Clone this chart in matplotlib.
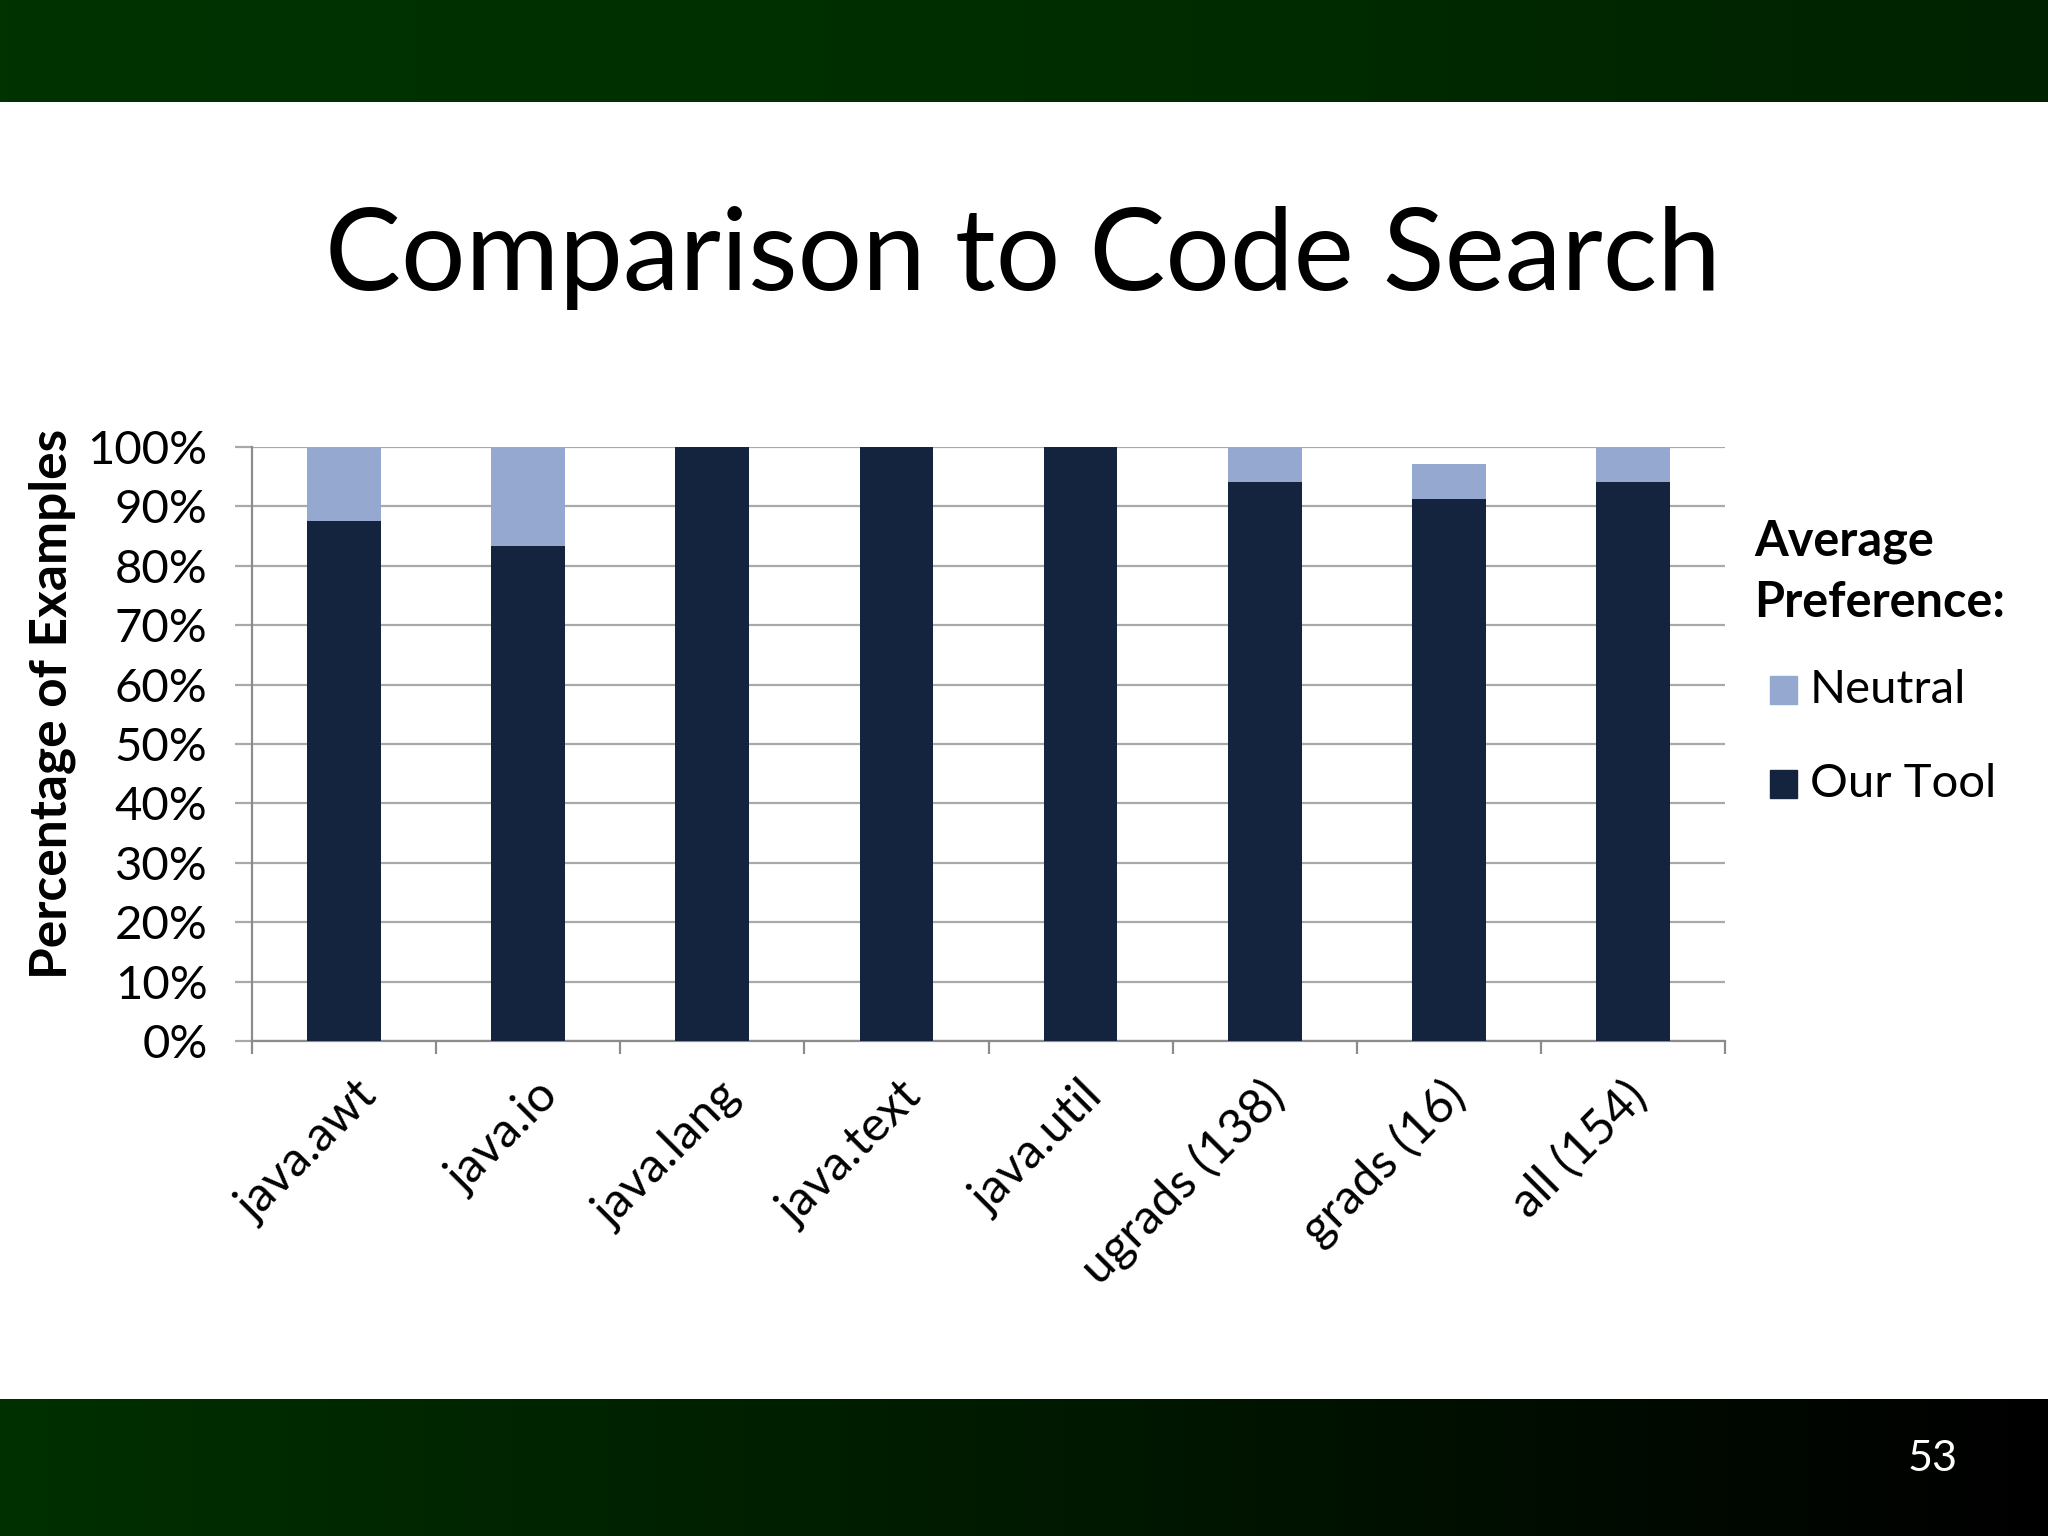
import numpy as np
import matplotlib
matplotlib.use("Agg")
import matplotlib.pyplot as plt
from matplotlib.patches import Rectangle
from matplotlib.transforms import ScaledTranslation

# data
categories = ["java.awt", "java.io", "java.lang", "java.text", "java.util",
              "ugrads (138)", "grads (16)", "all (154)"]
our_tool = [87.5, 83.3, 100, 100, 100, 94.1, 91.2, 94.1]
neutral = [12.5, 16.7, 0, 0, 0, 5.9, 5.9, 5.9]
yticks = list(range(0, 101, 10))

c_tool = "#14243f"
c_neutral = "#95a9d0"
c_grid = "#a9a9a9"

plt.rcParams["font.family"] = ["Lato", "DejaVu Sans"]

W, H = 2048, 1536
fig = plt.figure(figsize=(W / 100, H / 100), dpi=100, facecolor="white")

# background bands
bg = fig.add_axes([0, 0, 1, 1], zorder=-5)
grad = np.linspace(0, 1, 256).reshape(1, -1)
top_cmap = matplotlib.colors.LinearSegmentedColormap.from_list(
    "top", ["#003300", "#002e00", "#002200"])
bot_cmap = matplotlib.colors.LinearSegmentedColormap.from_list(
    "bot", ["#003000", "#001a00", "#000000"])
bg.imshow(grad, cmap=top_cmap, extent=[0, W, 102, 0], aspect="auto")
bg.imshow(grad, cmap=bot_cmap, extent=[0, W, H, 1399], aspect="auto")
bg.set_xlim(0, W)
bg.set_ylim(H, 0)
bg.axis("off")

fig.text(1023 / W, 1 - 290 / H, "Comparison to Code Search", ha="center",
         va="baseline", fontsize=82, color="black")
fig.text(1933 / W, 1 - 1459 / H, "53", ha="center", va="center",
         fontsize=31, color="white")

ax = fig.add_axes([252 / W, 1 - 1041 / H, (1725 - 252) / W, (1041 - 447) / H])
x = np.arange(len(categories))
ax.bar(x, our_tool, width=0.4, color=c_tool, zorder=3)
ax.bar(x, neutral, bottom=our_tool, width=0.4, color=c_neutral, zorder=3)

ax.set_xlim(-0.5, len(categories) - 0.5)
ax.set_ylim(0, 100)
ax.set_yticks(yticks)
ax.set_yticklabels([f"{v}%" for v in yticks], fontsize=34)
ax.yaxis.grid(True, color=c_grid, linewidth=1.6, zorder=0)
for s in ["top", "right"]:
    ax.spines[s].set_visible(False)
for s in ["left", "bottom"]:
    ax.spines[s].set_color("#8c8c8c")
    ax.spines[s].set_linewidth(1.6)
ax.tick_params(axis="y", length=12, width=1.6, color=c_grid, pad=20)

# category boundaries carry the x ticks
ax.set_xticks(np.arange(len(categories) + 1) - 0.5)
ax.set_xticklabels([])
ax.tick_params(axis="x", length=9, width=1.6, color="#8c8c8c")
ax.set_xticks(x, minor=True)
ax.set_xticklabels(categories, minor=True, rotation=45, ha="right",
                   va="top", rotation_mode="anchor", fontsize=35)
ax.tick_params(axis="x", which="minor", length=0, pad=0)
for i, lbl in enumerate(ax.get_xticklabels(minor=True)):
    off = ScaledTranslation(0.10 - 0.028 * i, -0.32, fig.dpi_scale_trans)
    lbl.set_transform(lbl.get_transform() + off)

fig.text(52 / W, 1 - 704 / H, "Percentage of Examples", rotation=90,
         ha="center", va="center", fontsize=37, fontweight="bold")

# legend
fig.text(1754 / W, 1 - 555 / H, "Average", fontsize=35, fontweight="bold",
         va="baseline")
fig.text(1754 / W, 1 - 617 / H, "Preference:", fontsize=35, fontweight="bold",
         va="baseline")
for name, col, yc in [("Neutral", c_neutral, 690), ("Our Tool", c_tool, 784)]:
    fig.add_artist(Rectangle((1770 / W, 1 - (yc + 14) / H), 27 / W, 28 / H,
                             transform=fig.transFigure, color=col))
    fig.text(1810 / W, 1 - yc / H, name, fontsize=34, va="center")

fig.savefig("out.png", dpi=100, facecolor="white")
